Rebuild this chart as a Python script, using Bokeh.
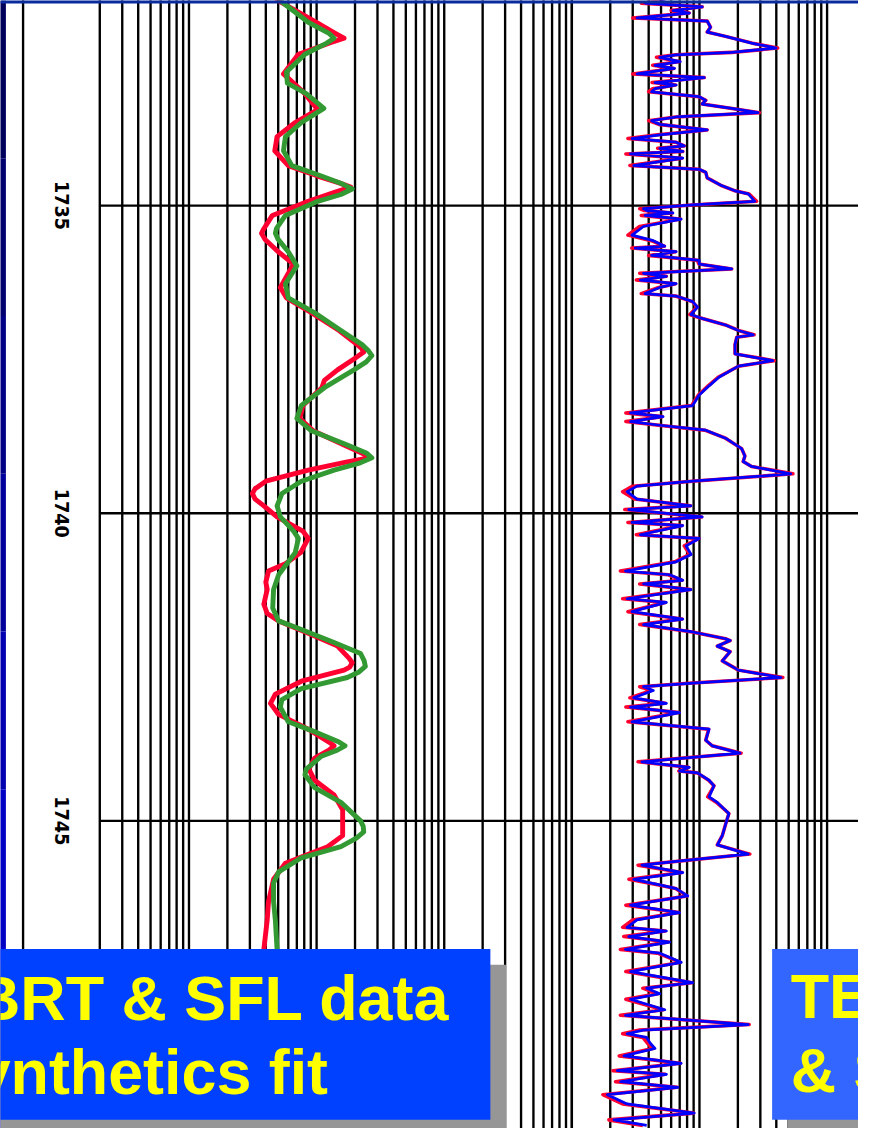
import math
from bokeh.plotting import figure
from bokeh.models import Range1d, LogScale, BoxAnnotation, Label
from bokeh.core.properties import value
from bokeh.embed import file_html
from bokeh.resources import INLINE

# ---------------- data ----------------
depth_ticks = [1735, 1740, 1745]
depth_labels = ["1735", "1740", "1745"]

# log grid of the resistivity track (ohm.m) and of the induction track
res_grid = [2, 3, 4, 5, 6, 7, 8, 9,
            10, 20, 30, 40, 50, 60, 70, 80, 90,
            100, 200, 300, 400, 500, 600, 700, 800, 900,
            1000, 2000, 3000, 4000, 5000, 6000, 7000, 8000, 9000, 10000]
ind_grid = [1, 2, 3, 4, 5, 6, 7, 8, 9,
            10, 20, 30, 40, 50, 60, 70, 80, 90, 100]

# measured BRT (red) - depth m / resistivity
brt_depth = [1731.60, 1731.67, 1732.02, 1732.20, 1732.28, 1732.35, 1732.54, 1732.86, 1733.18, 1733.44,
             1733.65, 1733.88, 1734.11, 1734.35, 1734.52, 1734.63, 1734.70, 1734.78, 1734.93, 1735.16,
             1735.38, 1735.45, 1735.55, 1735.75, 1735.95, 1736.33, 1736.50, 1736.74, 1737.03, 1737.26,
             1737.32, 1737.38, 1737.48, 1737.67, 1737.84, 1737.96, 1738.25, 1738.46, 1738.66, 1738.89,
             1739.03, 1739.10, 1739.17, 1739.30, 1739.48, 1739.60, 1739.68, 1739.77, 1739.88, 1740.06,
             1740.29, 1740.41, 1740.64, 1740.82, 1740.94, 1741.12, 1741.24, 1741.48, 1741.63, 1741.75,
             1741.95, 1742.16, 1742.36, 1742.43, 1742.50, 1742.55, 1742.73, 1742.94, 1743.09, 1743.27,
             1743.51, 1743.72, 1743.78, 1743.85, 1743.98, 1744.16, 1744.34, 1744.58, 1744.82, 1745.24,
             1745.42, 1745.69, 1745.95, 1746.31, 1746.61, 1747.09, 1747.60]
brt_value = [47, 50, 99, 140, 164, 130, 72, 55, 81, 102,
             68, 49, 47, 60, 102, 150, 185, 140, 86, 45,
             38.5, 37, 39.5, 50, 66, 52, 58, 91, 150, 208,
             225, 234, 200, 146, 115, 110, 78, 74, 94, 164,
             230, 256, 170, 86, 40, 33, 31.4, 33, 38.6, 49,
             78, 86, 75, 57, 42, 40, 41, 38.6, 41, 50.4,
             86, 146, 180, 190, 182, 164, 76, 47.5, 43.5, 50.4,
             86, 125, 137, 125, 96.5, 87, 96.5, 137, 160, 160,
             122, 57, 46, 42, 41, 38.6, 38]

# synthetic fit (green)
syn_depth = [1731.60, 1731.67, 1732.02, 1732.20, 1732.28, 1732.36, 1732.54, 1732.83, 1733.01, 1733.18,
             1733.42, 1733.65, 1733.88, 1734.11, 1734.35, 1734.52, 1734.65, 1734.73, 1734.82, 1734.93,
             1735.16, 1735.37, 1735.45, 1735.55, 1735.75, 1735.98, 1736.27, 1736.50, 1736.74, 1737.03,
             1737.26, 1737.36, 1737.44, 1737.54, 1737.67, 1737.96, 1738.25, 1738.46, 1738.66, 1738.89,
             1739.02, 1739.10, 1739.18, 1739.30, 1739.48, 1739.68, 1739.88, 1740.06, 1740.29, 1740.41,
             1740.64, 1741.00, 1741.24, 1741.54, 1741.75, 1741.89, 1742.10, 1742.28, 1742.40, 1742.49,
             1742.58, 1742.67, 1742.85, 1743.03, 1743.15, 1743.39, 1743.57, 1743.72, 1743.78, 1743.85,
             1743.95, 1744.16, 1744.25, 1744.46, 1744.70, 1745.00, 1745.09, 1745.18, 1745.28, 1745.42,
             1745.60, 1745.83, 1746.01, 1746.31, 1746.61, 1747.09, 1747.60]
syn_value = [49, 52, 86, 125, 137, 120, 81, 58, 59, 83,
             114, 76, 57, 55, 64, 109, 160, 190, 155, 102,
             57, 48.5, 47.5, 50, 60, 70, 57, 60, 96, 155,
             227, 255, 271, 245, 196, 115, 76, 70, 91, 174,
             245, 271, 220, 137, 76, 53.5, 49, 52, 66, 72,
             68, 50.4, 46, 45.3, 50.4, 76, 137, 221, 236, 241,
             215, 174, 76, 53.5, 52, 60, 102, 150, 167, 145,
             109, 83, 81, 96.5, 155, 221, 232, 234, 205, 155,
             76, 50.4, 46, 46, 47.5, 49, 49]

# induction track: measured (red) and synthetic (blue)
ind_depth = [1731.60,
             1731.68, 1731.71, 1731.77, 1731.83, 1731.87, 1731.95, 1732.00, 1732.10, 1732.18, 1732.25,
             1732.36, 1732.44, 1732.51, 1732.55, 1732.59, 1732.66, 1732.72, 1732.77, 1732.86, 1732.92,
             1733.00, 1733.04, 1733.10, 1733.15, 1733.23, 1733.29, 1733.35, 1733.42, 1733.49, 1733.56,
             1733.62, 1733.68, 1733.77, 1733.85, 1733.91, 1733.97, 1734.03, 1734.07, 1734.12, 1734.16,
             1734.23, 1734.35, 1734.41, 1734.46, 1734.55, 1734.67, 1734.76, 1734.81, 1734.93, 1734.99,
             1735.05, 1735.08, 1735.12, 1735.16, 1735.22, 1735.34, 1735.48, 1735.57, 1735.66, 1735.69,
             1735.75, 1735.81, 1735.89, 1735.95, 1736.03, 1736.10, 1736.15, 1736.21, 1736.27, 1736.33,
             1736.43, 1736.47, 1736.56, 1736.65, 1736.77, 1736.82, 1736.94, 1737.03, 1737.10, 1737.14,
             1737.26, 1737.41, 1737.52, 1737.61, 1737.79, 1737.93, 1738.08, 1738.25, 1738.37, 1738.43,
             1738.51, 1738.57, 1738.65, 1738.78, 1738.95, 1739.07, 1739.16, 1739.24, 1739.36, 1739.48,
             1739.56, 1739.65, 1739.77, 1739.88, 1739.94, 1740.06, 1740.15, 1740.20, 1740.35, 1740.41,
             1740.53, 1740.67, 1740.79, 1740.94, 1741.00, 1741.09, 1741.15, 1741.24, 1741.39, 1741.45,
             1741.60, 1741.72, 1741.81, 1741.93, 1742.04, 1742.07, 1742.16, 1742.25, 1742.40, 1742.55,
             1742.67, 1742.76, 1742.82, 1742.88, 1743.00, 1743.09, 1743.15, 1743.24, 1743.39, 1743.51,
             1743.69, 1743.78, 1743.90, 1744.04, 1744.13, 1744.19, 1744.22, 1744.34, 1744.43, 1744.61,
             1744.70, 1744.88, 1745.06, 1745.24, 1745.39, 1745.54, 1745.66, 1745.72, 1745.84, 1745.95,
             1746.04, 1746.10, 1746.22, 1746.37, 1746.49, 1746.61, 1746.73, 1746.79, 1746.88, 1746.97,
             1747.09, 1747.15, 1747.30, 1747.45, 1747.63, 1747.72, 1747.81, 1747.90, 1748.07, 1748.16,
             1748.31, 1748.40, 1748.46, 1748.52, 1748.61, 1748.70, 1748.82, 1748.94, 1749.06, 1749.12,
             1749.24, 1749.33, 1749.45, 1749.60, 1749.75, 1749.86, 1749.95]
ind_blue = [6.0,
            4.89, 3.75, 10.5, 6.2, 8.33, 3.24, 11.5, 12.2, 11.5, 16.0,
            25.6, 39.8, 17.9, 6.57, 4.89, 7.06, 4.48, 6.38, 3.24, 10.9,
            4.48, 6.57, 4.48, 4.22, 9.95, 11.2, 10.5, 17.9, 28.8, 6.57,
            4.22, 4.89, 11.5, 4.89, 2.96, 6.57, 7.62, 4.89, 7.4, 2.88,
            7.4, 3.05, 9.95, 11.2, 11.5, 14.7, 19.0, 24.1, 27.1, 8.84,
            3.64, 3.86, 6.2, 3.75, 7.19, 3.64, 2.96, 4.35, 5.35, 3.14,
            6.57, 4.22, 9.95, 9.95, 17.9, 3.64, 5.51, 3.44, 6.57, 4.89,
            3.75, 6.57, 8.84, 9.66, 8.58, 9.95, 16.0, 20.2, 26.4, 19.6,
            19.0, 19.0, 37.5, 20.2, 14.2, 11.9, 9.95, 8.84, 2.88, 5.19,
            2.88, 4.89, 11.2, 16.0, 21.4, 22.7, 22.0, 25.6, 51.9, 8.84,
            3.24, 2.71, 3.24, 8.58, 2.79, 10.5, 2.96, 7.4, 3.44, 9.95,
            7.85, 8.6, 6.57, 2.63, 5.84, 7.4, 3.64, 8.58, 2.71, 5.51,
            2.96, 7.4, 3.64, 8.84, 16.0, 17.4, 13.8, 17.4, 15.1, 20.2,
            43.5, 8.84, 3.64, 4.35, 3.05, 5.51, 2.88, 6.98, 2.96, 11.9,
            11.2, 12.6, 20.8, 3.54, 8.33, 6.98, 9.66, 11.9, 13.0, 11.9,
            13.8, 17.0, 16.0, 15.1, 13.8, 24.1, 6.57, 3.54, 7.4, 3.05,
            4.89, 6.57, 8.09, 2.88, 6.98, 3.24, 2.71, 5.51, 2.79, 5.84,
            2.63, 4.89, 7.19, 2.88, 8.84, 3.86, 4.89, 2.88, 5.35, 2.63,
            24.1, 3.64, 2.71, 3.86, 4.1, 4.48, 2.56, 7.19, 2.27, 5.51,
            2.41, 6.78, 1.90, 2.71, 9.1, 2.14, 3.86]
ind_red = [5.8,
           4.7, 3.5, 10.5, 6.0, 8.3, 3.0, 11.5, 12.2, 11.5, 16.0,
           26, 41, 18, 6.5, 4.6, 7.0, 4.3, 6.3, 3.0, 10.9,
           4.25, 6.5, 4.3, 4.0, 9.9, 11.2, 10.5, 18, 29.5, 6.5,
           4.0, 4.8, 11.5, 4.7, 2.75, 6.5, 7.6, 4.7, 7.4, 2.65,
           7.3, 2.85, 9.9, 11.2, 11.5, 14.7, 19.0, 24.5, 28, 8.8,
           3.4, 3.7, 6.1, 3.5, 7.1, 3.4, 2.75, 4.2, 5.3, 2.95,
           6.5, 4.0, 9.6, 9.9, 17.9, 3.4, 5.5, 3.2, 6.5, 4.8,
           3.5, 6.5, 8.8, 9.6, 8.4, 9.9, 16.0, 20.2, 26.8, 19.6,
           19.0, 19.0, 38.5, 20.2, 14.0, 11.7, 9.8, 8.7, 2.65, 5.1,
           2.65, 4.8, 11.0, 16.0, 21.4, 22.7, 22.0, 25.6, 54, 8.8,
           3.0, 2.5, 3.1, 8.5, 2.6, 10.4, 2.75, 7.3, 3.2, 9.9,
           7.6, 8.4, 6.4, 2.4, 5.7, 7.3, 3.4, 8.5, 2.5, 5.4,
           2.75, 7.3, 3.4, 8.8, 16.0, 17.4, 13.8, 17.4, 15.1, 20.2,
           45, 8.8, 3.4, 4.2, 2.85, 5.4, 2.65, 6.9, 2.75, 11.8,
           11.2, 12.6, 21.2, 3.3, 8.2, 6.9, 9.6, 11.8, 13.0, 11.6,
           13.6, 17.0, 16.0, 15.1, 13.8, 24.8, 6.5, 3.3, 7.3, 2.8,
           4.7, 6.5, 8.0, 2.65, 6.9, 3.0, 2.5, 5.4, 2.55, 5.7,
           2.4, 4.7, 7.1, 2.65, 8.7, 3.6, 4.7, 2.65, 5.2, 2.4,
           24.5, 3.4, 2.5, 3.6, 3.9, 4.3, 2.35, 7.1, 2.1, 5.4,
           2.2, 6.7, 1.75, 2.5, 9.0, 1.95, 3.6]

caption_left = ["BRT & SFL data", "Synthetics fit"]
caption_right = ["TE", "& S"]

# ---------------- layout constants (reference pixel space) ----------------
REF_W, REF_H = 874, 1144
W, H = 858, 1128
DEC = 130.0          # px per decade
RES_ONE = 62.0       # px position of value 1 on the resistivity scale
IND_ONE = 582.0      # px position of value 1 on the induction scale
PX_PER_M = 62.4
DEPTH_TOP = 1735 - 208 / PX_PER_M
DEPTH_BOT = 1745 + (REF_H - 832) / PX_PER_M
FS = W / REF_W

p = figure(width=W, height=H, x_range=Range1d(0, REF_W), y_range=Range1d(REF_H, 0),
           output_backend="svg", toolbar_location=None, min_border=0,
           x_axis_location=None, y_axis_location=None,
           outline_line_color=None, background_fill_color="white",
           border_fill_color="white")
p.grid.grid_line_color = None

p.extra_x_ranges = {
    "res": Range1d(10 ** (-RES_ONE / DEC), 10 ** ((REF_W - RES_ONE) / DEC)),
    "ind": Range1d(10 ** (-IND_ONE / DEC), 10 ** ((REF_W - IND_ONE) / DEC)),
}
p.extra_x_scales = {"res": LogScale(), "ind": LogScale()}
p.extra_y_ranges = {"depth": Range1d(DEPTH_BOT, DEPTH_TOP)}

# slide decorations: dark strip at the left edge, blue rule at the top
bands = [(0, 160, "#00005c"), (160, 320, "#00006e"), (320, 480, "#000084"),
         (480, 640, "#00009a"), (640, 800, "#0000b0"), (800, 960, "#0000c4"),
         (960, 1150, "#0000d4")]
for top, bot, col in bands:
    p.add_layout(BoxAnnotation(left=-5, right=5.5, top=top, bottom=bot,
                               fill_color=col, fill_alpha=1, line_color=None))
p.add_layout(BoxAnnotation(left=0, right=REF_W, top=-5, bottom=3,
                           fill_color="#0a2b9e", fill_alpha=1, line_color=None))

lw = 2.4 * FS
# depth-track left border
p.segment(x0=[23], x1=[23], y0=[-10], y1=[REF_H + 10], line_color="black", line_width=lw)

# vertical log grids
p.segment(x0=res_grid, x1=res_grid, y0=[DEPTH_TOP - 1] * len(res_grid),
          y1=[DEPTH_BOT + 1] * len(res_grid), x_range_name="res", y_range_name="depth",
          line_color="black", line_width=lw)
p.segment(x0=ind_grid, x1=ind_grid, y0=[DEPTH_TOP - 1] * len(ind_grid),
          y1=[DEPTH_BOT + 1] * len(ind_grid), x_range_name="ind", y_range_name="depth",
          line_color="black", line_width=lw)
# horizontal depth lines
p.segment(x0=[res_grid[0]] * 3, x1=[1e8] * 3, y0=depth_ticks, y1=depth_ticks,
          x_range_name="res", y_range_name="depth", line_color="black", line_width=lw)

# depth labels
p.text(x=[63] * 3, y=depth_ticks, text=depth_labels, y_range_name="depth",
       angle=-math.pi / 2, text_align="center", text_baseline="middle",
       text_font=value("Liberation Sans Narrow, DejaVu Sans Condensed, Liberation Sans"),
       text_font_style="bold", text_font_size=f"{20 * FS:.1f}px", text_color="black")

# curves
p.line(brt_value, brt_depth, x_range_name="res", y_range_name="depth",
       line_color="#ff0030", line_width=5.0 * FS, line_join="round")
p.line(syn_value, syn_depth, x_range_name="res", y_range_name="depth",
       line_color="#339933", line_width=5.0 * FS, line_join="round")
p.line(ind_red, ind_depth, x_range_name="ind", y_range_name="depth",
       line_color="#ff0030", line_width=3.6 * FS, line_join="round")
p.line(ind_blue, ind_depth, x_range_name="ind", y_range_name="depth",
       line_color="#0000ff", line_width=2.8 * FS, line_join="round")

# caption boxes
p.add_layout(BoxAnnotation(left=-50, right=515, top=978, bottom=1160,
                           fill_color="#969696", fill_alpha=1, line_color=None))
p.add_layout(BoxAnnotation(left=-50, right=499, top=962, bottom=1135,
                           fill_color="#0040ff", fill_alpha=1, line_color=None))
p.add_layout(BoxAnnotation(left=802, right=900, top=978, bottom=1160,
                           fill_color="#969696", fill_alpha=1, line_color=None))
p.add_layout(BoxAnnotation(left=786, right=900, top=962, bottom=1135,
                           fill_color="#3366ff", fill_alpha=1, line_color=None))

cap_font = "Liberation Sans"
cap_size = f"{64 * FS:.1f}px"
for txt, x, y in [(caption_left[0], -26, 1012), (caption_left[1], -68, 1087),
                  (caption_right[0], 805, 1010), (caption_right[1], 805, 1085)]:
    p.add_layout(Label(x=x, y=y, text=txt, text_font=cap_font, text_font_style="bold",
                       text_font_size=cap_size, text_color="#ffff00",
                       text_align="left", text_baseline="alphabetic"))

open("out.html", "w").write(file_html(p, INLINE))
